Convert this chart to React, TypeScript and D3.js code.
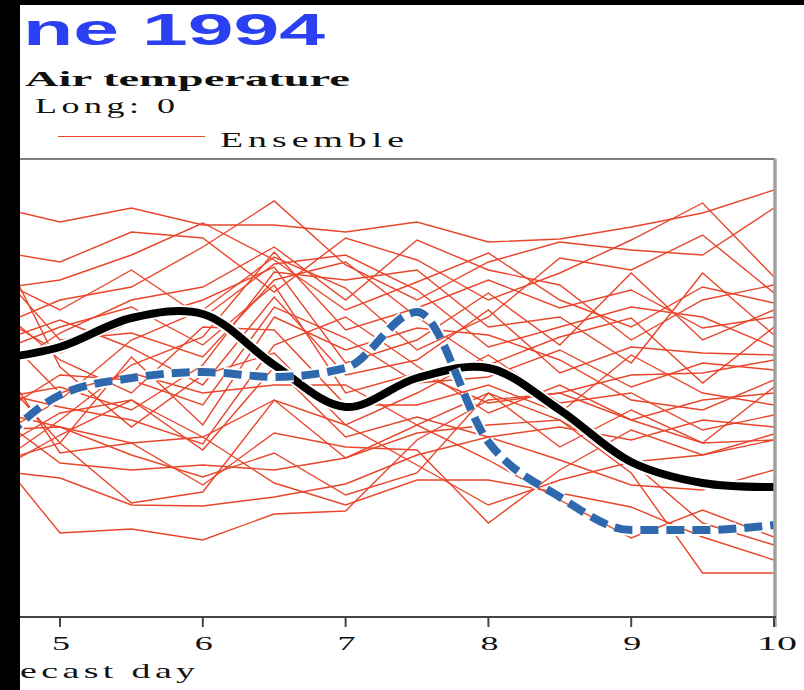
import React from 'react';
import * as d3 from 'd3';

// forecast days (half-day steps)
const days = [4.5, 5, 5.5, 6, 6.5, 7, 7.5, 8, 8.5, 9, 9.5, 10];
const xTicks = [5, 6, 7, 8, 9, 10];

// ensemble members, air temperature (°C)
const m01 = [25.6, 24.75, 25.45, 24.6, 24.6, 24.25, 24.75, 23.75, 23.9, 24.5, 25.2, 26.35];
const m02 = [19.35, 20.85, 21.5, 23.5, 25.8, 22.6, 20.85, 22.75, 23.75, 23.35, 23.1, 25.45];
const m03 = [23.35, 22.75, 24.25, 23.95, 21.25, 23.95, 22.85, 20.85, 22.2, 23.85, 25.7, 22.0];
const m04 = [21.35, 21.85, 23.1, 24.7, 22.85, 20.35, 21.75, 23.2, 20.85, 19.5, 21.5, 20.7];
const m05 = [16.85, 19.2, 20.85, 21.5, 23.5, 20.85, 23.85, 22.35, 21.6, 18.85, 20.85, 21.6];
const m06 = [13.85, 15.85, 18.85, 20.35, 23.0, 21.45, 18.35, 20.0, 22.95, 22.35, 24.1, 21.2];
const m07 = [22.1, 20.35, 22.35, 19.95, 22.65, 23.1, 21.35, 18.5, 19.5, 20.5, 20.0, 18.5];
const m08 = [12.35, 14.85, 17.6, 19.0, 23.25, 19.35, 20.45, 21.85, 20.45, 21.35, 19.45, 20.0];
const m09 = [20.35, 18.2, 19.75, 20.85, 22.5, 17.7, 18.85, 21.2, 18.6, 22.2, 18.85, 20.35];
const m10 = [15.85, 16.5, 15.35, 17.6, 22.25, 21.85, 22.35, 19.5, 20.0, 17.7, 22.2, 19.1];
const m11 = [18.6, 19.85, 18.45, 16.6, 21.0, 17.1, 17.85, 20.35, 17.2, 18.5, 18.2, 18.1];
const m12 = [22.85, 18.85, 19.2, 18.0, 21.85, 22.75, 20.0, 17.6, 19.0, 19.95, 16.7, 19.5];
const m13 = [14.85, 17.1, 16.85, 15.6, 20.5, 18.95, 16.7, 17.0, 18.35, 16.5, 17.7, 17.35];
const m14 = [18.1, 19.5, 20.5, 18.6, 21.6, 16.2, 17.2, 15.7, 16.2, 17.1, 17.2, 17.85];
const m15 = [12.6, 13.7, 18.0, 14.6, 20.0, 18.35, 19.45, 19.1, 17.85, 15.85, 15.35, 16.85];
const m16 = [20.85, 17.85, 16.2, 19.5, 19.35, 15.6, 15.6, 16.6, 15.2, 18.1, 16.2, 15.6];
const m17 = [16.35, 15.5, 14.85, 13.65, 18.6, 20.0, 17.55, 15.2, 16.6, 14.85, 15.85, 16.2];
const m18 = [24.6, 17.5, 14.5, 17.1, 18.2, 14.6, 16.2, 18.1, 15.7, 16.2, 14.35, 15.1];
const m19 = [13.1, 15.2, 15.85, 13.35, 17.5, 14.0, 15.0, 14.0, 14.5, 13.85, 14.85, 14.5];
const m20 = [19.85, 16.2, 17.2, 16.2, 16.6, 16.6, 14.6, 16.2, 13.5, 15.35, 13.7, 16.5];
const m21 = [15.35, 14.5, 13.7, 14.0, 15.85, 12.95, 14.2, 14.6, 14.85, 12.75, 13.1, 13.85];
const m22 = [17.75, 13.7, 10.7, 11.25, 15.85, 14.6, 12.6, 10.6, 11.85, 12.75, 9.7, 8.6];
const m23 = [12.1, 14.1, 15.85, 14.0, 11.7, 10.6, 11.85, 11.85, 11.2, 10.5, 9.0, 7.85];
const m24 = [14.35, 14.5, 13.1, 12.0, 13.2, 11.1, 12.2, 16.2, 14.85, 12.2, 7.2, 7.2];
const m25 = [15.35, 12.7, 12.35, 12.6, 12.35, 12.95, 14.6, 12.85, 10.85, 8.95, 10.35, 9.0];
const m26 = [18.6, 13.2, 13.7, 11.6, 14.2, 13.5, 13.35, 9.7, 12.35, 14.35, 13.1, 14.15];
const m27 = [12.35, 11.95, 10.6, 10.55, 11.0, 11.65, 13.1, 14.0, 12.85, 11.6, 11.35, 12.35];
const m28 = [13.6, 9.2, 9.4, 8.85, 10.15, 10.3, 13.85, 15.85, 16.2, 14.85, 13.7, 13.85];
const ensemble = [m01, m02, m03, m04, m05, m06, m07, m08, m09, m10, m11, m12, m13, m14,
  m15, m16, m17, m18, m19, m20, m21, m22, m23, m24, m25, m26, m27, m28];

// control (black) and analysis (blue dashed)
const control = [17.85, 18.5, 19.95, 20.15, 17.6, 15.5, 16.95, 17.45, 15.35, 12.75, 11.7, 11.5];
const analysis = [13.1, 16.1, 16.95, 17.25, 17.0, 17.45, 20.25, 13.75, 11.0, 9.35, 9.35, 9.6];

const titleText = 'ne 1994';
const varText = 'Air temperature';
const longText = 'Long: 0';
const legendText = 'Ensemble';
const xLabel = 'ecast day';

export default function App() {
  const W = 804, H = 690;
  const left = 20, top = 159, right = 775, bottom = 617;
  const x = d3.scaleLinear().domain([5, 10]).range([60, 774]);
  const y = d3.scaleLinear().domain([5, 27.9]).range([bottom, top]);

  const straight = d3.line<number>().x((_, i) => x(days[i])).y((d) => y(d));
  const smooth = d3.line<number>().x((_, i) => x(days[i])).y((d) => y(d))
    .curve(d3.curveCatmullRom.alpha(0.5));
  const smoothMono = d3.line<number>().x((_, i) => x(days[i])).y((d) => y(d))
    .curve(d3.curveMonotoneX);

  const red = '#e8462b';
  const blue = '#2f68ad';
  const serif = "'Liberation Serif', 'Times New Roman', serif";
  const sans = "'Liberation Sans', Arial, sans-serif";

  const spaced = (s: string, tx: number, ty: number, w: number, size: number, sx: number) => (
    <text transform={`translate(${tx},${ty}) scale(${sx},1)`} x={0} y={0} fontFamily={serif}
      fontSize={size} fill="#111" textLength={w / sx} lengthAdjust="spacing">{s}</text>
  );

  return (
    <svg width={W} height={H} viewBox={`0 0 ${W} ${H}`}
      style={{ position: 'absolute', left: 0, top: 0, background: '#fff' }}>
      <defs>
        <clipPath id="plotClip">
          <rect x={0} y={top} width={right - 1} height={bottom - top} />
        </clipPath>
      </defs>
      <rect x={0} y={0} width={W} height={H} fill="#fff" />

      {/* title & subtitles */}
      <text x={23} y={45} fontFamily={sans} fontWeight="bold" fontSize={45} fill="#2b40f2"
        textLength={302} lengthAdjust="spacingAndGlyphs">{titleText}</text>
      <text x={25} y={86} fontFamily={serif} fontWeight="bold" fontSize={22} fill="#111"
        textLength={325} lengthAdjust="spacingAndGlyphs">{varText}</text>
      {spaced(longText, 35, 113, 140, 20, 1.8)}

      {/* legend */}
      <line x1={58} x2={205} y1={136.5} y2={136.5} stroke={red} strokeWidth={1.2} />
      {spaced(legendText, 220, 147, 184, 21, 1.8)}

      {/* plot lines */}
      <g clipPath="url(#plotClip)">
        {ensemble.map((m, i) => (
          <path key={i} d={straight(m) || ''} fill="none" stroke={red} strokeWidth={1.4}
            strokeLinejoin="miter" />
        ))}
        <path d={smooth(control) || ''} fill="none" stroke="#fff" strokeWidth={12} />
        <path d={smooth(control) || ''} fill="none" stroke="#000" strokeWidth={8} />
        <path d={smoothMono(analysis) || ''} fill="none" stroke="#fff" strokeWidth={12}
          strokeDasharray="18 8" />
        <path d={smoothMono(analysis) || ''} fill="none" stroke={blue} strokeWidth={8}
          strokeDasharray="18 8" />
      </g>

      {/* frame */}
      <line x1={left} x2={right} y1={top} y2={top} stroke="#555" strokeWidth={1.5} />
      <line x1={right} x2={right} y1={top} y2={bottom + 10} stroke="#a0a0a0" strokeWidth={3.5} />
      <line x1={left} x2={right + 1} y1={bottom} y2={bottom} stroke="#444" strokeWidth={2} />

      {/* x axis ticks */}
      {xTicks.map((t) => (
        <g key={t}>
          <line x1={x(t)} x2={x(t)} y1={bottom} y2={bottom + 10} stroke="#444" strokeWidth={2} />
          <text x={x(t) + (t === 10 ? 3 : 1)} y={650} textAnchor="middle" fontFamily={serif}
            fontSize={19} fill="#111" textLength={t === 10 ? 40 : 18}
            lengthAdjust="spacingAndGlyphs">{String(t)}</text>
        </g>
      ))}
      {spaced(xLabel, 20, 678, 175, 21, 1.8)}

      {/* black crop edges */}
      <rect x={0} y={0} width={W} height={5} fill="#000" />
      <rect x={0} y={0} width={20} height={H} fill="#000" />
    </svg>
  );
}
